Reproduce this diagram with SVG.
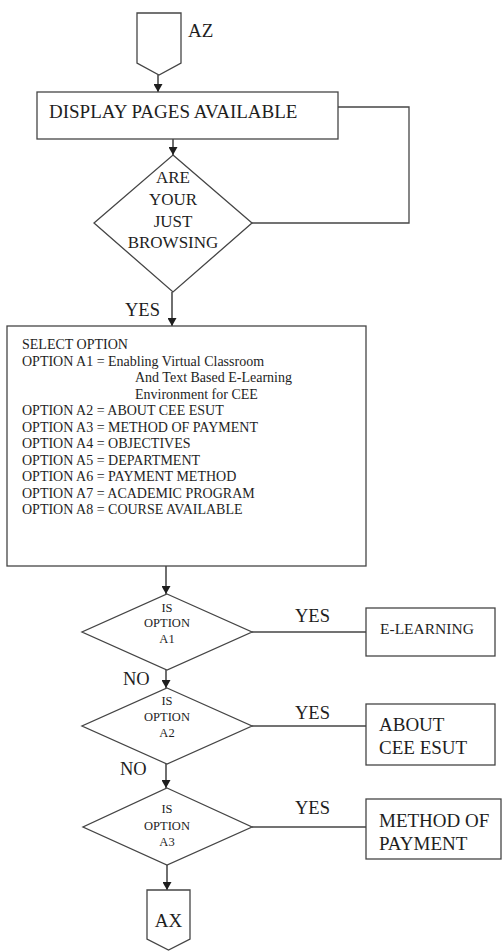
<svg xmlns="http://www.w3.org/2000/svg" width="504" height="952" viewBox="0 0 504 952">
  <style>
    .shape { fill: #ffffff; stroke: #454545; stroke-width: 1.3; }
    .line { fill: none; stroke: #454545; stroke-width: 1.3; }
    .arrow { fill: none; stroke: #333333; stroke-width: 1.4; marker-end: url(#head); }
    text { font-family: "Liberation Serif", "Times New Roman", serif; fill: #1e1e1e; }
    .big { font-size: 19px; }
    .dia { font-size: 17px; text-anchor: middle; }
    .opt { font-size: 14px; }
    .small { font-size: 12.5px; text-anchor: middle; }
    .lbl { font-size: 18.5px; }
  </style>
  <defs>
    <marker id="head" markerUnits="userSpaceOnUse" markerWidth="8" markerHeight="9" viewBox="0 0 8 9" refX="8" refY="4.5" orient="auto">
      <path d="M0,0 L8,4.5 L0,9 z" fill="#1e1e1e"/>
    </marker>
  </defs>

  <!-- connectors -->
  <g id="connectors">
    <line class="arrow" x1="158" y1="75" x2="158" y2="92"/>
    <line class="arrow" x1="173" y1="139" x2="173" y2="155"/>
    <polyline class="line" points="252,223 409,223 409,107 338,107"/>
    <line class="arrow" x1="172" y1="292" x2="172" y2="326"/>
    <line class="arrow" x1="166" y1="566" x2="166" y2="594"/>
    <line class="arrow" x1="166" y1="670" x2="166" y2="688"/>
    <line class="arrow" x1="166" y1="764" x2="166" y2="788"/>
    <line class="arrow" x1="167" y1="865" x2="167" y2="890"/>
    <line class="line" x1="252" y1="632" x2="366" y2="632"/>
    <line class="line" x1="252" y1="726" x2="366" y2="726"/>
    <line class="line" x1="252" y1="827" x2="366" y2="827"/>
    <text class="lbl" x="125" y="316">YES</text>
    <text class="lbl" x="123" y="685">NO</text>
    <text class="lbl" x="120" y="775">NO</text>
    <text class="lbl" x="295" y="622">YES</text>
    <text class="lbl" x="295" y="719">YES</text>
    <text class="lbl" x="295" y="814">YES</text>
  </g>

  <!-- off-page connector at the top -->
  <g id="az">
    <polygon class="shape" points="137,13 181,13 181,63 159,75 137,63"/>
    <text class="big" x="188" y="37">AZ</text>
  </g>

  <g id="display-pages">
    <rect class="shape" x="37" y="92" width="301" height="47"/>
    <text class="big" x="49" y="118">DISPLAY PAGES AVAILABLE</text>
  </g>

  <g id="browsing">
    <polygon class="shape" points="173,155 252,223 173,292 94,223"/>
    <text class="dia" x="173" y="183">ARE</text>
    <text class="dia" x="173" y="205">YOUR</text>
    <text class="dia" x="173" y="227">JUST</text>
    <text class="dia" x="173" y="248">BROWSING</text>
  </g>

  <g id="select-option">
    <rect class="shape" x="7" y="326" width="359" height="240"/>
    <text class="opt" x="22" y="349">SELECT OPTION</text>
    <text class="opt" x="22" y="365.5">OPTION A1 = Enabling Virtual Classroom</text>
    <text class="opt" x="135" y="382">And Text Based E-Learning</text>
    <text class="opt" x="135" y="398.5">Environment for CEE</text>
    <text class="opt" x="22" y="415">OPTION A2 = ABOUT CEE ESUT</text>
    <text class="opt" x="22" y="431.5">OPTION A3 = METHOD OF PAYMENT</text>
    <text class="opt" x="22" y="448">OPTION A4 = OBJECTIVES</text>
    <text class="opt" x="22" y="464.5">OPTION A5 = DEPARTMENT</text>
    <text class="opt" x="22" y="481">OPTION A6 = PAYMENT METHOD</text>
    <text class="opt" x="22" y="497.5">OPTION A7 = ACADEMIC PROGRAM</text>
    <text class="opt" x="22" y="514">OPTION A8 = COURSE AVAILABLE</text>
  </g>

  <g id="is-a1">
    <polygon class="shape" points="167,594 252,632 167,670 82,632"/>
    <text class="small" x="167" y="612">IS</text>
    <text class="small" x="167" y="627">OPTION</text>
    <text class="small" x="167" y="643">A1</text>
  </g>

  <g id="is-a2">
    <polygon class="shape" points="167,688 252,726 167,764 82,726"/>
    <text class="small" x="167" y="705">IS</text>
    <text class="small" x="167" y="721">OPTION</text>
    <text class="small" x="167" y="737">A2</text>
  </g>

  <g id="is-a3">
    <polygon class="shape" points="167,788 252,827 167,865 83,827"/>
    <text class="small" x="167" y="813">IS</text>
    <text class="small" x="167" y="830">OPTION</text>
    <text class="small" x="167" y="846">A3</text>
  </g>

  <g id="e-learning">
    <rect class="shape" x="366" y="608" width="129" height="48"/>
    <text x="380" y="634" style="font-size:15.5px">E-LEARNING</text>
  </g>

  <g id="about-cee">
    <rect class="shape" x="366" y="704" width="129" height="61"/>
    <text class="big" x="379" y="731">ABOUT</text>
    <text class="big" x="379" y="754">CEE ESUT</text>
  </g>

  <g id="method-payment">
    <rect class="shape" x="366" y="799" width="135" height="60"/>
    <text class="big" x="379" y="827">METHOD OF</text>
    <text class="big" x="379" y="850">PAYMENT</text>
  </g>

  <!-- off-page connector at the bottom -->
  <g id="ax">
    <polygon class="shape" points="147,890 190,890 190,939 168.5,950 147,939"/>
    <text class="big" x="168.5" y="927" text-anchor="middle">AX</text>
  </g>
</svg>
